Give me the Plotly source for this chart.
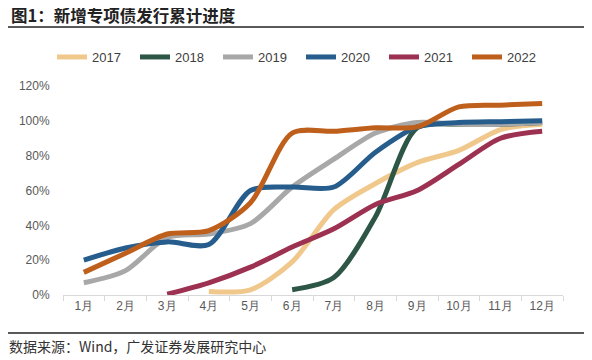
import plotly.graph_objects as go

months = ["1月", "2月", "3月", "4月", "5月", "6月", "7月", "8月", "9月", "10月", "11月", "12月"]
years = ["2017", "2018", "2019", "2020", "2021", "2022"]
colors = ["#F0C88C", "#2E5646", "#A8A8A8", "#265D8C", "#9C3151", "#BF5F1C"]

v2017 = [None, None, None, 2, 3, 19, 49, 64, 76, 83, 95, 98]
v2018 = [None, None, None, None, None, 3, 10, 45, 96, 98, 98, 99]
v2019 = [7, 14, 33, 35, 41, 62, 78, 93, 99, 98, 98, 99]
v2020 = [20, 27, 30.5, 29, 60, 62, 62, 82, 96.5, 99, 99.5, 100]
v2021 = [None, None, 0.5, 7, 16, 27.5, 38, 52, 60, 75, 90, 94]
v2022 = [13, 24, 35, 37, 53, 93, 94, 96, 96.5, 108, 109, 110]
series = [v2017, v2018, v2019, v2020, v2021, v2022]

yticks = [0, 20, 40, 60, 80, 100, 120]
ytext = [f"{t}%" for t in yticks]

# the page body adds an 8px offset; work in reference pixel coords and shift
OFF = 8
W, H = 592 - OFF, 360 - OFF
L, R, T, B = 63 - OFF, 29, 86 - OFF, 65
PW, PH = W - L - R, H - T - B

def px(x):
    return (x - OFF - L) / PW

def py(y):
    return (H - B - (y - OFF)) / PH

fig = go.Figure()
for name, vals, col in zip(years, series, colors):
    fig.add_trace(go.Scatter(
        x=months, y=vals, name=name, mode="lines",
        line=dict(color=col, width=5, shape="spline", smoothing=0.8),
        connectgaps=False,
    ))

fig.update_layout(
    width=W, height=H,
    margin=dict(l=L, r=R, t=T, b=B, autoexpand=False),
    paper_bgcolor="white", plot_bgcolor="white",
    font=dict(family="Liberation Sans, Arial, sans-serif", size=12, color="#595959"),
    showlegend=True,
    legend=dict(orientation="h", x=px(52), xanchor="left", y=py(57), yanchor="middle",
                font=dict(size=13, color="#404040"), itemwidth=30,
                entrywidth=38, entrywidthmode="pixels",
                tracegroupgap=0, bgcolor="rgba(0,0,0,0)"),
    xaxis=dict(range=[-0.5, 11.5], showgrid=False, showline=True, linecolor="#D9D9D9", linewidth=1,
               ticks="outside", tickson="boundaries", ticklen=5, tickcolor="#D9D9D9",
               tickfont=dict(size=12, color="#595959"), fixedrange=True),
    yaxis=dict(range=[0, 120], tickvals=yticks, ticktext=ytext, showgrid=False,
               showline=False, zeroline=False, ticks="outside", ticklen=10,
               tickcolor="rgba(0,0,0,0)",
               tickfont=dict(size=12, color="#595959"), fixedrange=True),
)

fig.add_annotation(text="<b>图1：新增专项债发行累计进度</b>", xref="paper", yref="paper",
                   x=px(9), y=py(15), xanchor="left", yanchor="middle",
                   showarrow=False, font=dict(family="Noto Sans CJK SC", size=16.5, color="#222222"))
fig.add_annotation(text="数据来源：Wind，广发证券发展研究中心", xref="paper", yref="paper",
                   x=px(7), y=py(346), xanchor="left", yanchor="middle",
                   showarrow=False, font=dict(family="Noto Sans CJK SC", size=14, color="#333333"))
fig.add_shape(type="line", xref="paper", yref="paper", x0=px(0), x1=px(600),
              y0=py(27), y1=py(27), line=dict(color="#222222", width=1.5))
fig.add_shape(type="line", xref="paper", yref="paper", x0=px(0), x1=px(600),
              y0=py(333), y1=py(333), line=dict(color="#222222", width=1.5))

fig.write_html("out.html")
